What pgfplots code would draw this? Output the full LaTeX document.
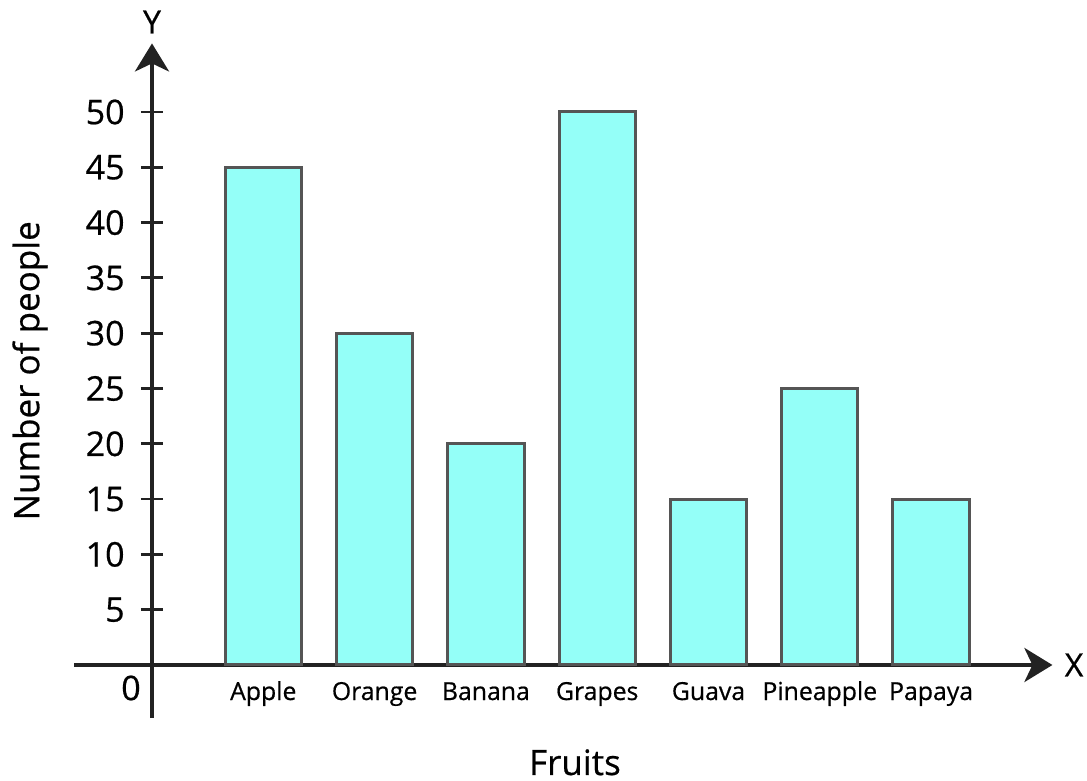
\documentclass[border=0pt]{standalone}
\usepackage{pgfplots}
\pgfplotsset{compat=1.18}
\usepackage{fontspec}
\setmainfont{Open Sans}[FakeBold=0.6]
\usetikzlibrary{arrows.meta}
\definecolor{barfill}{HTML}{94FFF8}
\definecolor{baredge}{HTML}{555555}
\definecolor{axcol}{HTML}{222222}
\begin{document}
\begin{tikzpicture}
\useasboundingbox (-76pt,-58pt) rectangle (467.5pt,332.5pt);
\begin{axis}[
  anchor=origin, at={(0pt,0pt)},
  scale only axis,
  x=55.65pt, y=5.53pt,
  xmin=-0.70, xmax=8.09,
  ymin=-4.8, ymax=56.2,
  axis lines=middle,
  axis line style={line width=2pt, axcol, -{Stealth[length=14pt,width=17pt,inset=4pt]}},
  clip=false,
  ytick={5,10,...,50},
  xtick={1,...,7},
  xticklabels={Apple,Orange,Banana,Grapes,Guava,Pineapple,Papaya},
  x tick style={draw=none},
  y tick style={line width=1.4pt, axcol},
  major tick length=11pt,
  tick align=center,
  yticklabel style={font=\fontsize{17}{17}\selectfont, anchor=east, inner sep=0pt, xshift=-8pt},
  xticklabel style={font=\fontsize{12.4}{12.4}\selectfont, anchor=base, inner sep=0pt, yshift=-6.5pt},
  /pgf/number format/assume math mode=true,
  ybar, bar width=0.685, bar shift=0pt,
]
\addplot[fill=barfill, draw=baredge, line width=1.5pt] coordinates {
  (1,45) (2,30) (3,20) (4,50) (5,15) (6,25) (7,15)
};
\node[font=\fontsize{17}{17}\selectfont, anchor=center] at (axis cs:0,0) [xshift=-10.5pt, yshift=-11.5pt] {0};
\node[font=\fontsize{17.5}{17.5}\selectfont, anchor=base, inner sep=0pt] at (axis cs:3.8,0) [yshift=-55pt] {Fruits};
\node[font=\fontsize{17.5}{17.5}\selectfont, rotate=90, anchor=center] at ([xshift=-61pt]axis cs:0,26.6) {Number of people};
\node[font=\fontsize{16}{16}\selectfont, anchor=base] at (axis cs:0,56.2) [yshift=5pt] {Y};
\node[font=\fontsize{16}{16}\selectfont, anchor=west, inner sep=0pt] at (axis cs:8.09,0) [xshift=6pt] {X};
\end{axis}
\end{tikzpicture}
\end{document}
